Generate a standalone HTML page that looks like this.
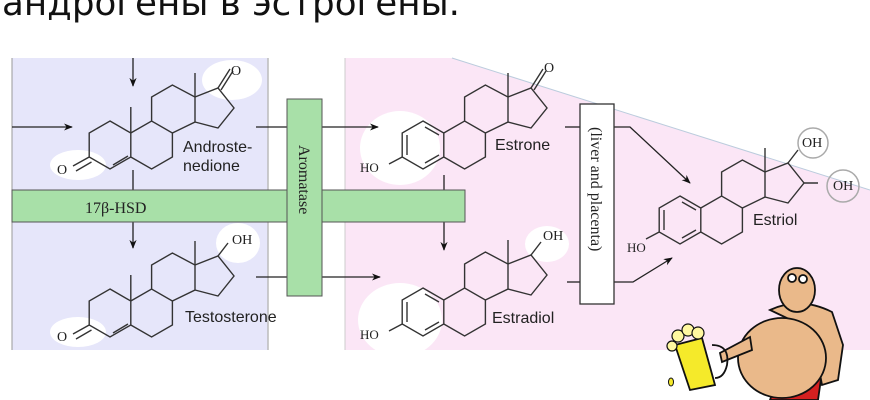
<!DOCTYPE html>
<html><head><meta charset="utf-8"><style>
html,body{margin:0;padding:0;background:#fff;width:870px;height:400px;overflow:hidden}
svg{display:block}
.s{font-family:"Liberation Serif",serif;fill:#222}
.a{font-family:"Liberation Sans",sans-serif;fill:#222}
</style></head><body>
<svg width="870" height="400" viewBox="0 0 870 400" xmlns="http://www.w3.org/2000/svg">
<defs>
<marker id="ar" viewBox="0 0 10 10" refX="9" refY="5" markerWidth="9" markerHeight="9" orient="auto" markerUnits="userSpaceOnUse"><path d="M0,1 L10,5 L0,9 L3,5z" fill="#111"/></marker>
<g id="sk" fill="none" stroke="#333" stroke-width="1.4">
<path d="M0,-24 L20.8,-12 L20.8,12 L0,24 L-20.8,12 L-20.8,-12 Z"/>
<path d="M20.8,-12 L41.6,-24 L62.4,-12 L62.4,12 L41.6,24 L20.8,12"/>
<path d="M41.6,-24 L41.6,-48 L62.4,-60 L85,-48 L85,-23 L62.4,-12"/>
<path d="M85,-48 L108,-57 L124,-37 L108,-17 L85,-23"/>
<path d="M85,-48 L85,-72"/>
</g>
<g id="andr" fill="none" stroke="#333" stroke-width="1.4">
<path d="M20.8,-12 L20.8,-38"/>
<path d="M3,20 L18,11"/>
<path d="M-20.8,12 L-37,21 M-18.5,17 L-34,26"/>
</g>
<g id="arom" fill="none" stroke="#333" stroke-width="1.4">
<path d="M2,-18 L16,-10 M16,10 L2,18 M-16,10 L-16,-10"/>
<path d="M-20.8,12 L-34,19"/>
</g>
</defs>

<text x="2" y="15" font-family="'DejaVu Sans','Liberation Sans',sans-serif" font-size="36" fill="#111" textLength="458" lengthAdjust="spacingAndGlyphs">андрогены в эстрогены.</text>

<rect x="12" y="58" width="256" height="292" fill="#e6e6fa"/>
<line x1="268" y1="58" x2="268" y2="350" stroke="#bbb" stroke-width="1.5"/>
<line x1="12" y1="58" x2="12" y2="350" stroke="#999" stroke-width="1"/>
<path d="M345,58 L452,58 L870,190 L870,350 L345,350 Z" fill="#fbe6f6"/>
<line x1="452" y1="58" x2="870" y2="190" stroke="#bcd" stroke-width="1"/>
<line x1="345" y1="58" x2="345" y2="350" stroke="#ccc" stroke-width="1"/>

<g fill="#fff">
<ellipse cx="232" cy="80" rx="30" ry="20"/>
<ellipse cx="78" cy="165" rx="28" ry="15"/>
<ellipse cx="238" cy="243" rx="22" ry="20"/>
<ellipse cx="78" cy="332" rx="28" ry="15"/>
<ellipse cx="400" cy="148" rx="40" ry="37"/>
<ellipse cx="400" cy="320" rx="42" ry="37"/>
<ellipse cx="547" cy="244" rx="22" ry="18"/>
<ellipse cx="545" cy="70" rx="12" ry="12"/>
</g>
<g fill="none" stroke="#aaa" stroke-width="1.5">
<circle cx="813" cy="143" r="15"/>
<circle cx="843" cy="186" r="16"/>
</g>

<!-- arrows (behind bars) -->
<g stroke="#222" stroke-width="1.3" fill="none">
<line x1="12" y1="127" x2="72" y2="127" marker-end="url(#ar)"/>
<line x1="133" y1="58" x2="133" y2="86" marker-end="url(#ar)"/>
<line x1="133" y1="170" x2="133" y2="248" marker-end="url(#ar)"/>
<line x1="256" y1="127" x2="287" y2="127"/>
<line x1="322" y1="127" x2="378" y2="127" marker-end="url(#ar)"/>
<line x1="256" y1="277" x2="287" y2="277"/>
<line x1="322" y1="277" x2="380" y2="277" marker-end="url(#ar)"/>
<line x1="444" y1="175" x2="444" y2="250" marker-end="url(#ar)"/>
<line x1="565" y1="127" x2="580" y2="127"/>
<path d="M614,127 L630,127 L690,183" marker-end="url(#ar)"/>
<line x1="567" y1="282" x2="580" y2="282"/>
<path d="M614,282 L633,282 L672,258" marker-end="url(#ar)"/>
</g>

<rect x="12" y="190" width="453" height="32" fill="#a8e0a8" stroke="#555" stroke-width="1"/>
<rect x="287" y="99" width="35" height="197" fill="#a8e0a8" stroke="#555" stroke-width="1"/>
<text class="s" x="85" y="213" font-size="16">17β-HSD</text>
<text class="s" font-size="16" transform="translate(299,145) rotate(90)">Aromatase</text>

<rect x="580" y="104" width="34" height="200" fill="#fff" stroke="#333" stroke-width="1.3"/>
<text class="s" font-size="16" transform="translate(591,127) rotate(90)">(liver and placenta)</text>

<g transform="translate(110,145)"><use href="#sk"/><use href="#andr"/><path d="M108,-57 L120,-76 M111,-55 L123,-74" stroke="#333" stroke-width="1.4" fill="none"/></g>
<text class="s" x="57" y="174" font-size="14">O</text>
<text class="s" x="231" y="75" font-size="14">O</text>
<text class="a" x="183" y="152" font-size="16">Androste-</text>
<text class="a" x="183" y="171" font-size="16">nedione</text>

<g transform="translate(110,313)"><use href="#sk"/><use href="#andr"/><path d="M108,-57 L118,-70" stroke="#333" stroke-width="1.4"/></g>
<text class="s" x="57" y="341" font-size="14">O</text>
<text class="s" x="232" y="244" font-size="14">OH</text>
<text class="a" x="185" y="322" font-size="16">Testosterone</text>

<g transform="translate(423,145)"><use href="#sk"/><use href="#arom"/><path d="M108,-57 L120,-76 M111,-55 L123,-74" stroke="#333" stroke-width="1.4" fill="none"/></g>
<text class="s" x="360" y="172" font-size="13">HO</text>
<text class="s" x="544" y="72" font-size="14">O</text>
<text class="a" x="495" y="150" font-size="16">Estrone</text>

<g transform="translate(423,312)"><use href="#sk"/><use href="#arom"/><path d="M108,-57 L118,-70" stroke="#333" stroke-width="1.4"/></g>
<text class="s" x="360" y="339" font-size="13">HO</text>
<text class="s" x="543" y="240" font-size="14">OH</text>
<text class="a" x="492" y="323" font-size="16">Estradiol</text>

<g transform="translate(680,220)"><use href="#sk"/><use href="#arom"/><path d="M108,-57 L118,-70 M124,-37 L138,-37" stroke="#333" stroke-width="1.4"/></g>
<text class="s" x="627" y="252" font-size="13">HO</text>
<text class="s" x="802" y="147" font-size="14">OH</text>
<text class="s" x="833" y="190" font-size="14">OH</text>
<text class="a" x="753" y="225" font-size="16">Estriol</text>

<!-- beer man -->
<g stroke="#111" stroke-width="1.8">
<path d="M770,400 L778,378 L822,372 L818,400 Z" fill="#d42020"/>
<path d="M770,310 Q800,296 832,312 L843,345 L838,380 L822,385 L812,330 Z" fill="#eab98a"/>
<ellipse cx="782" cy="358" rx="44" ry="40" fill="#eab98a"/>
<path d="M750,337 L720,353 L722,362 L752,350 Z" fill="#eab98a"/>
<ellipse cx="797" cy="290" rx="18" ry="22" fill="#eab98a"/>
<circle cx="792" cy="278" r="4" fill="#fff"/><circle cx="803" cy="279" r="4" fill="#fff"/>
<path d="M675,345 L702,338 L715,385 L690,390 Z" fill="#f5ea2a"/>
<path d="M712,345 Q730,345 727,365 Q724,378 715,378" fill="none"/>
<g fill="#fff8a0" stroke-width="1.2"><circle cx="678" cy="336" r="6"/><circle cx="688" cy="330" r="6"/><circle cx="698" cy="333" r="6"/><circle cx="672" cy="346" r="5"/></g>
<ellipse cx="671" cy="382" rx="2.5" ry="4" fill="#f5ea2a" stroke-width="1"/>
</g>
</svg>
</body></html>
